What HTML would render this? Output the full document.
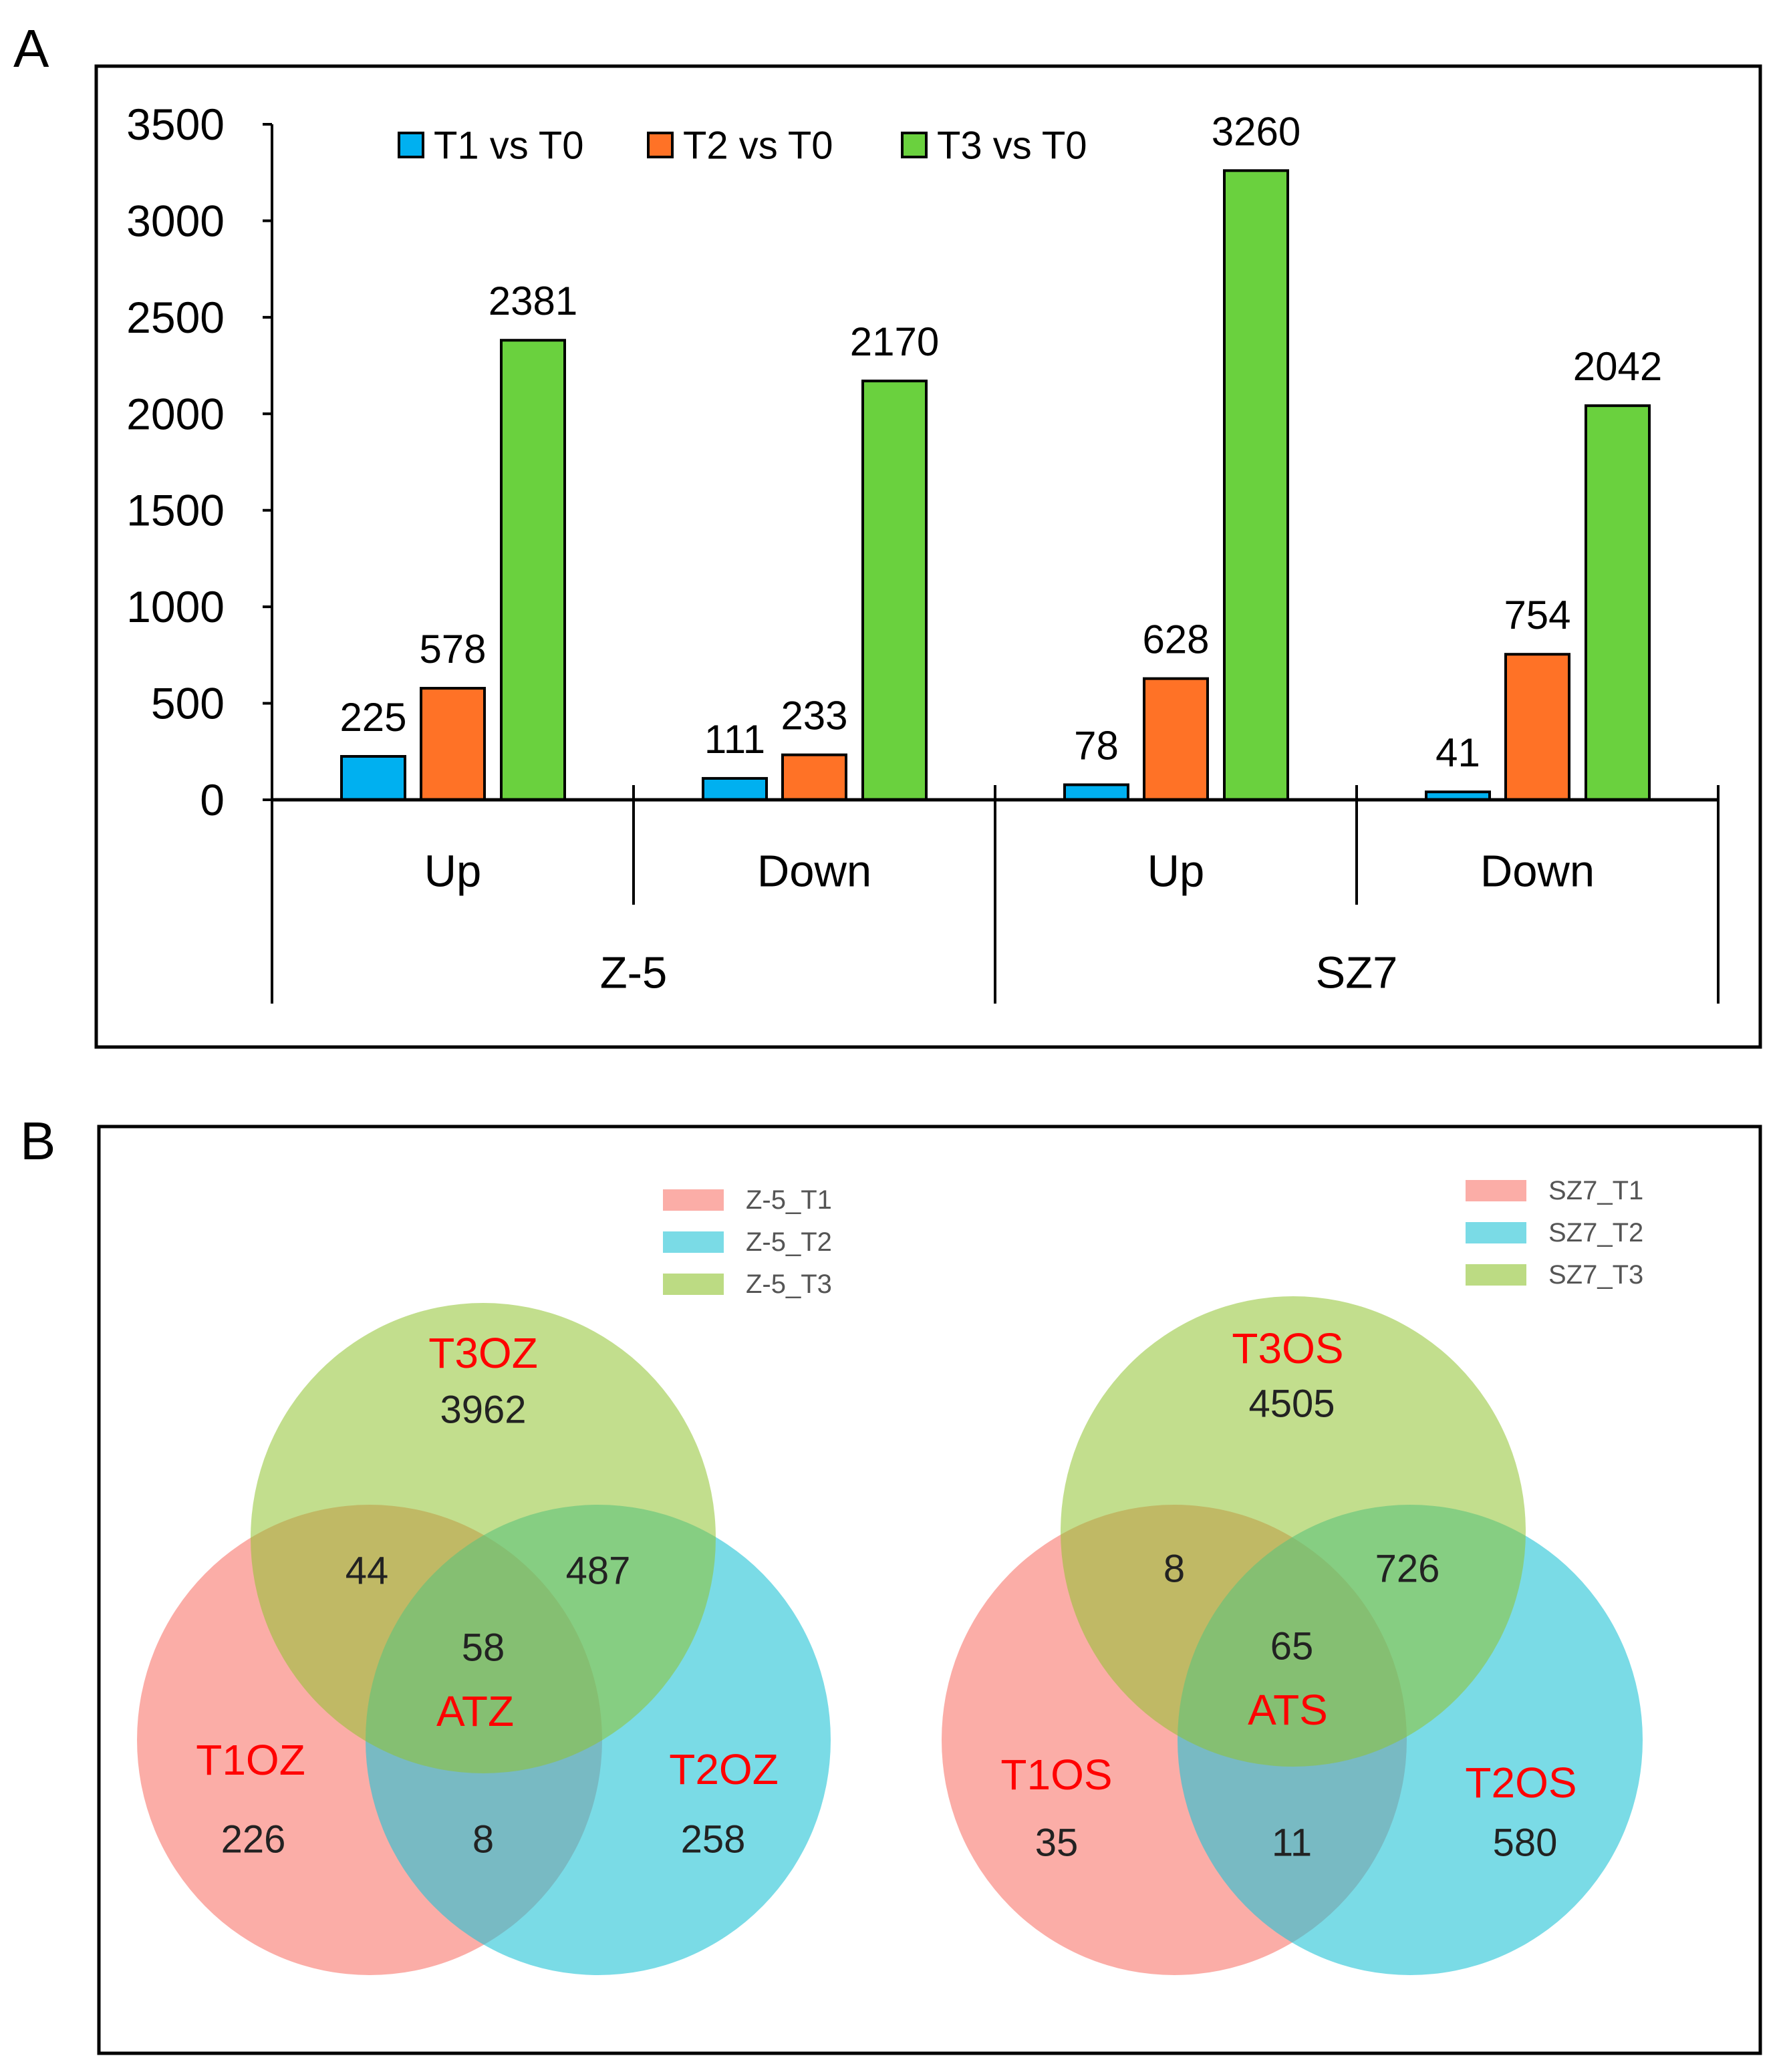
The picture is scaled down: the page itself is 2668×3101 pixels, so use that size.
<!DOCTYPE html>
<html><head><meta charset="utf-8"><style>
html,body{margin:0;padding:0;background:#fff}
svg{display:block;font-family:"Liberation Sans",Arial,sans-serif}
</style></head><body>
<svg id="fig" width="2668" height="3101" viewBox="0 0 2668 3101" xmlns="http://www.w3.org/2000/svg">
<text x="20" y="100" font-size="80">A</text>
<rect x="144" y="99" width="2490" height="1468" fill="none" stroke="#000" stroke-width="5"/>
<g id="chart"></g>
<text x="30" y="1735" font-size="80">B</text>
<rect x="148" y="1686" width="2486" height="1387" fill="none" stroke="#000" stroke-width="5"/>
<g id="venn"></g>
</svg>
<script>
const groups = ["Z-5","Z-5","SZ7","SZ7"];
const subgroups = ["Up","Down","Up","Down"];
const seriesNames = ["T1 vs T0","T2 vs T0","T3 vs T0"];
const t1Values = [225,111,78,41];
const t2Values = [578,233,628,754];
const t3Values = [2381,2170,3260,2042];
const yTicks = [0,500,1000,1500,2000,2500,3000,3500];

const NS="http://www.w3.org/2000/svg";
function mk(parent,tag,attrs,text){const e=document.createElementNS(NS,tag);for(const k in attrs)e.setAttribute(k,attrs[k]);if(text!==undefined)e.textContent=text;parent.appendChild(e);return e;}
const chart=document.getElementById('chart');
const X0=407,X1=2571,Y0=1197,YTOP=186,YMAX=3500;
const y=v=>Y0-(v/YMAX)*(Y0-YTOP);
const catW=(X1-X0)/subgroups.length;
const cx=i=>X0+catW*(i+0.5);
const colors=["#00b0f0","#ff7226","#6ad13e"];
const series=[t1Values,t2Values,t3Values];
const offs=[-119,0,120], bw=95;

let ax=mk(chart,'line',{x1:X0,y1:YTOP,x2:X0,y2:Y0,stroke:'#000','stroke-width':4});


yTicks.forEach(t=>{
  let l=mk(chart,'line',{x1:X0-14,y1:y(t),x2:X0,y2:y(t),stroke:'#000','stroke-width':4});
  
  
  let tx=mk(chart,'text',{x:336,y:y(t),'font-size':66,'text-anchor':'end','dominant-baseline':'central'},String(t));
  
  
});
series.forEach((vals,s)=>{
  vals.forEach((v,i)=>{
    const bx=cx(i)+offs[s]-bw/2;
    let r=mk(chart,'rect',{x:bx,y:y(v),width:bw,height:Y0-y(v),fill:colors[s],stroke:'#000','stroke-width':4});
    
    
    let lb=mk(chart,'text',{x:cx(i)+offs[s],y:y(v)-38,'font-size':60,'text-anchor':'middle'},String(v));
    
    
  });
});
let xa=mk(chart,'line',{x1:X0,y1:Y0,x2:X1,y2:Y0,stroke:'#000','stroke-width':5});


for(let i=0;i<=subgroups.length;i++){
  const xx=X0+catW*i, long=(i%2===0);
  let l=mk(chart,'line',{x1:xx,y1:Y0-22,x2:xx,y2:long?1502:1354,stroke:'#000','stroke-width':4});
  
  
}
subgroups.forEach((s,i)=>{
  let t=mk(chart,'text',{x:cx(i),y:1304,'font-size':67,'text-anchor':'middle','dominant-baseline':'central'},s);
  
  
});
[0,2].forEach(i=>{
  let t=mk(chart,'text',{x:X0+catW*(i+1),y:1456,'font-size':67,'text-anchor':'middle','dominant-baseline':'central'},groups[i]);
  
  
});
const legX=[597,970,1350];
seriesNames.forEach((n,s)=>{
  let r=mk(chart,'rect',{x:legX[s],y:199,width:36,height:36,fill:colors[s],stroke:'#000','stroke-width':4});
  
  
  let t=mk(chart,'text',{x:legX[s]+52,y:218,'font-size':58,'dominant-baseline':'central'},n);
  
  
});

// Venn
const venn=document.getElementById('venn');
const vc={red:'#f8766d',blue:'#22c3d6',green:'#8fc330'};
function drawVenn(g,circ,labels,nums,leg){
  [['red',circ.r],['blue',circ.b],['green',circ.g]].forEach(([c,p])=>{
    let e=mk(g,'ellipse',{cx:p[0],cy:p[1],rx:348,ry:352,fill:vc[c],'fill-opacity':c==='green'?0.55:0.6});
    
    
  });
  labels.forEach(([t,x,yy])=>{
    let e=mk(g,'text',{x:x,y:yy,'font-size':64,fill:'#ff0000','text-anchor':'middle','dominant-baseline':'central'},t);
    
    
  });
  nums.forEach(([t,x,yy])=>{
    let e=mk(g,'text',{x:x,y:yy,'font-size':58,fill:'#222','text-anchor':'middle','dominant-baseline':'central'},t);
    
    
  });
  leg.items.forEach((t,i)=>{
    const c=[vc.red,vc.blue,vc.green][i];
    let r=mk(g,'rect',{x:leg.x,y:leg.y+i*63-16,width:91,height:32,fill:c,'fill-opacity':0.6});
    
    
    let e=mk(g,'text',{x:leg.x+124,y:leg.y+i*63,'font-size':40,fill:'#555','dominant-baseline':'central'},t);
    
    
  });
}
drawVenn(venn,{g:[723,2302],r:[553,2604],b:[895,2604]},
 [['T3OZ',723,2025],['ATZ',711,2561],['T1OZ',375,2634],['T2OZ',1083,2648]],
 [['3962',723,2110],['44',549,2351],['487',895,2351],['58',723,2466],['226',379,2753],['8',723,2753],['258',1067,2753]],
 {x:992,y:1796,items:['Z-5_T1','Z-5_T2','Z-5_T3']});
drawVenn(venn,{g:[1935,2292],r:[1757,2604],b:[2110,2604]},
 [['T3OS',1927,2018],['ATS',1927,2559],['T1OS',1581,2656],['T2OS',2276,2668]],
 [['4505',1933,2101],['8',1757,2348],['726',2106,2348],['65',1933,2464],['35',1581,2758],['11',1933,2758],['580',2282,2758]],
 {x:2193,y:1782,items:['SZ7_T1','SZ7_T2','SZ7_T3']});
</script>
</body></html>
